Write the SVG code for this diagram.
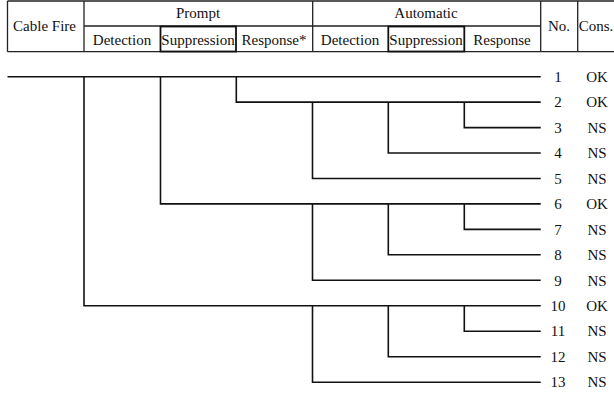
<svg xmlns="http://www.w3.org/2000/svg" width="614" height="395" viewBox="0 0 614 395">
<style>
text{font-family:"Liberation Serif","Times New Roman",serif;font-size:15px;fill:#111;text-anchor:middle}
.t{stroke:#222;stroke-width:1.3;fill:none}
.b{stroke:#111;stroke-width:1.8;fill:none}
.c{stroke:#111;stroke-width:1.6;fill:none}
</style>
<rect width="614" height="395" fill="#fff"/>
<g id="header">
<path class="t" d="M7.5,1 H614 M7.5,51.7 H614 M7.5,1 V51.7 M84,1 V51.7 M84,26 H540.7 M312.7,1 V51.7 M540.7,1 V51.7 M577.7,1 V51.7"/>
<rect class="b" x="160.5" y="26.5" width="75.5" height="25"/>
<rect class="b" x="388.3" y="26.5" width="76" height="25"/>
<text x="44.5" y="31">Cable Fire</text>
<text x="198" y="18">Prompt</text>
<text x="426" y="18">Automatic</text>
<text x="122" y="44.5">Detection</text>
<text x="198" y="44.5">Suppression</text>
<text x="274" y="44.5">Response*</text>
<text x="350" y="44.5">Detection</text>
<text x="426" y="44.5">Suppression</text>
<text x="502" y="44.5">Response</text>
<text x="559" y="31">No.</text>
<text x="596" y="31">Cons.</text>
</g>
<g id="connectors">
<path class="c" d="M7.5,76.7 H540.7
M84,76.7 V305.8 H540.7
M160.5,76.7 V203.9 H540.7
M236.3,76.7 V102.1 H540.7
M312.5,102.1 V178.5 H540.7
M388.3,102.1 V153 H540.7
M464.3,102.1 V127.6 H540.7
M312.5,203.9 V280.3 H540.7
M388.3,203.9 V254.8 H540.7
M464.3,203.9 V229.4 H540.7
M312.5,305.8 V382.2 H540.7
M388.3,305.8 V356.7 H540.7
M464.3,305.8 V331.2 H540.7"/>
</g>
<g id="outcomes">
<text x="558" y="81.9">1</text><text x="597" y="81.9">OK</text>
<text x="558" y="107.3">2</text><text x="597" y="107.3">OK</text>
<text x="558" y="132.8">3</text><text x="597" y="132.8">NS</text>
<text x="558" y="158.2">4</text><text x="597" y="158.2">NS</text>
<text x="558" y="183.7">5</text><text x="597" y="183.7">NS</text>
<text x="558" y="209.1">6</text><text x="597" y="209.1">OK</text>
<text x="558" y="234.6">7</text><text x="597" y="234.6">NS</text>
<text x="558" y="260">8</text><text x="597" y="260">NS</text>
<text x="558" y="285.5">9</text><text x="597" y="285.5">NS</text>
<text x="558" y="311">10</text><text x="597" y="311">OK</text>
<text x="558" y="336.4">11</text><text x="597" y="336.4">NS</text>
<text x="558" y="361.9">12</text><text x="597" y="361.9">NS</text>
<text x="558" y="387.4">13</text><text x="597" y="387.4">NS</text>
</g>
</svg>
